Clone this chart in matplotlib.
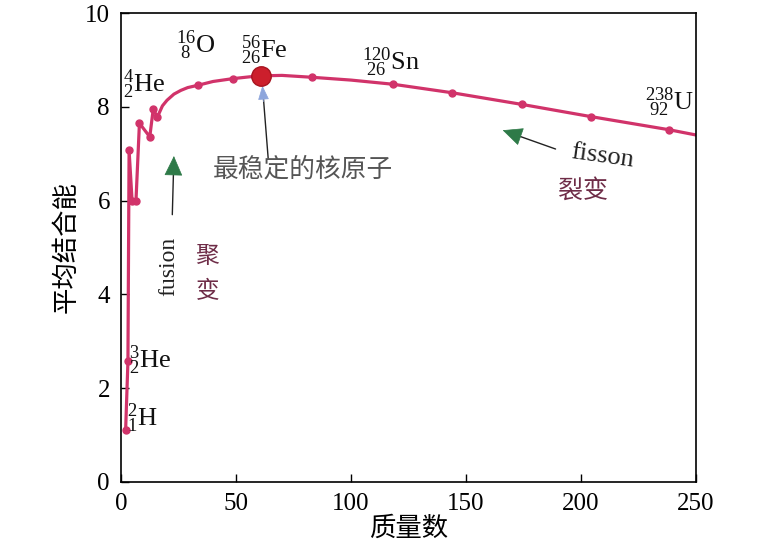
import matplotlib
matplotlib.use("Agg")
import matplotlib.pyplot as plt

plt.rcParams['mathtext.fontset'] = 'custom'
plt.rcParams['mathtext.rm'] = 'Liberation Serif'
plt.rcParams['mathtext.it'] = 'Liberation Serif:italic'
plt.rcParams['font.family'] = ['Liberation Serif', 'Noto Sans CJK SC']

# data
mass_pts = [2, 3, 3.5, 4.8, 6.5, 8, 12.5, 14, 15.8, 33.5, 48.5, 83, 118.5, 144, 174.5, 204.5, 238.5]
energy_pts = [1.11, 2.57, 7.07, 6.0, 6.0, 7.65, 7.36, 7.95, 7.78, 8.46, 8.60, 8.63, 8.48, 8.30, 8.05, 7.79, 7.51]

curve_mass = [2, 3, 3.5, 4.8, 6.5, 8, 12.5, 14, 15.8, 18, 20, 23, 26, 29, 33.5, 40, 48.5,
              56, 61, 70, 83, 100, 118.5, 144, 174.5, 204.5, 238.5, 250]
curve_energy = [1.11, 2.57, 7.07, 6.0, 6.0, 7.65, 7.36, 7.95, 7.78, 8.02, 8.14, 8.27, 8.35, 8.41,
                8.46, 8.54, 8.60, 8.64, 8.66, 8.67, 8.63, 8.57, 8.48, 8.30, 8.05, 7.79, 7.51, 7.40]

fe_mass = [61]
fe_energy = [8.66]

x_ticks = [0, 50, 100, 150, 200, 250]
y_ticks = [0, 2, 4, 6, 8, 10]

labels = [r'$^{2}_{1}\mathrm{H}$', r'$^{3}_{2}\mathrm{He}$', r'$^{4}_{2}\mathrm{He}$',
          r'$^{16}_{\ 8}\mathrm{O}$', r'$^{56}_{26}\mathrm{Fe}$', r'$^{120}_{\ 26}\mathrm{Sn}$',
          r'$^{238}_{\ 92}\mathrm{U}$']
label_x = [2.5, 3.5, 1.0, 24, 52, 105, 228]
label_y = [1.35, 2.6, 8.47, 9.32, 9.2, 8.95, 8.1]

line_color = '#d1336a'
cjk = ['Noto Sans CJK SC']
green = '#2e7a48'


def arrow(tail, tip, head_color, head_frac, hl, hw):
    # shaft
    ax.annotate('', xy=tip, xytext=tail,
                arrowprops=dict(arrowstyle='-', color='#222222', lw=1.0,
                                shrinkA=0, shrinkB=8))
    # head
    hx = tip[0] - (tip[0] - tail[0]) * head_frac
    hy = tip[1] - (tip[1] - tail[1]) * head_frac
    ax.annotate('', xy=tip, xytext=(hx, hy),
                arrowprops=dict(arrowstyle=f'-|>,head_length={hl},head_width={hw}',
                                color=head_color, lw=0.5, shrinkA=0, shrinkB=0))


fig = plt.figure(figsize=(7.68, 5.54), dpi=100)
ax = fig.add_axes([0.1576, 0.130, 0.7484, 0.8465])

ax.plot(curve_mass, curve_energy, color=line_color, lw=2.3, zorder=2)
ax.plot(mass_pts, energy_pts, 'o', color=line_color, ms=5, zorder=3)
ax.plot(fe_mass, fe_energy, 'o', color='#cc1f2c', mec='#a8141f', ms=14, zorder=4)

for t, x, y in zip(labels, label_x, label_y):
    ax.text(x, y, t, fontsize=19, ha='left', va='center', color='#111111')

ax.set_xlim(0, 250)
ax.set_ylim(0, 10)
ax.set_xticks(x_ticks)
ax.set_yticks(y_ticks)
ax.tick_params(direction='in', length=6, width=1, labelsize=18, pad=8,
               top=False, right=False)
for s in ax.spines.values():
    s.set_linewidth(1.2)

ax.set_xlabel('质量数', fontsize=19, family=cjk, labelpad=0)
ax.set_ylabel('平均结合能', fontsize=19, family=cjk, labelpad=4)

# annotations
arrow((64, 6.9), (61.5, 8.45), '#8ea6dc', 0.22, 0.9, 0.35)
ax.text(40, 6.67, '最稳定的核原子', fontsize=18.5, family=cjk, color='#555555',
        ha='left', va='center')

arrow((22.3, 5.7), (23, 6.95), green, 0.3, 1.3, 0.6)
ax.text(20.8, 4.6, 'fusion', rotation=90, fontsize=17, ha='center', va='center',
        color='#222222')
ax.text(37.5, 4.8, '聚', fontsize=17, family=cjk, ha='center', va='center', color='#6e2c47')
ax.text(37.5, 4.05, '变', fontsize=17, family=cjk, ha='center', va='center', color='#6e2c47')

arrow((189, 7.1), (166, 7.5), green, 0.3, 1.3, 0.6)
ax.text(195, 6.95, 'fisson', rotation=-8, fontsize=19, ha='left', va='center',
        color='#222222')
ax.text(201, 6.2, '裂变', fontsize=18, family=cjk, ha='center', va='center', color='#6e2c47')

fig.savefig('out.png', dpi=100, facecolor='white')
